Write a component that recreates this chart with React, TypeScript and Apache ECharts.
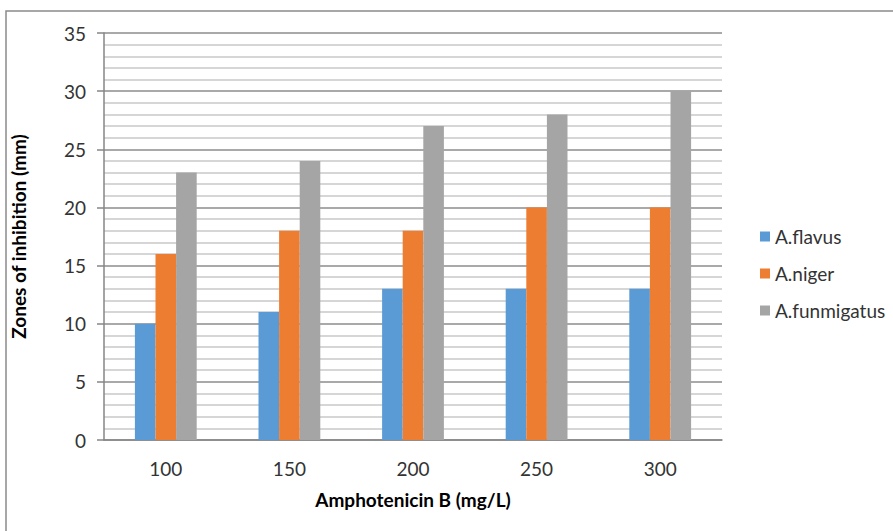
import React, { useEffect, useRef } from "react";
import * as echarts from "echarts";

const categories = ["100", "150", "200", "250", "300"];
const flavus = [10, 11, 13, 13, 13];
const niger = [16, 18, 18, 20, 20];
const funmigatus = [23, 24, 27, 28, 30];
const seriesNames = ["A.flavus", "A.niger", "A.funmigatus"];
const colors = ["#5B9BD5", "#ED7D31", "#A5A5A5"];

const FONT = "Lato, 'Liberation Sans', sans-serif";

export default function App() {
  const ref = useRef<HTMLDivElement>(null);
  useEffect(() => {
    if (!ref.current) return;
    const chart = echarts.init(ref.current, undefined, { renderer: "svg" });
    const data = [flavus, niger, funmigatus];
    chart.setOption({
      animation: false,
      backgroundColor: "#ffffff",
      textStyle: { fontFamily: FONT },
      graphic: [
        {
          type: "rect",
          shape: { x: 6, y: 11, width: 920, height: 560 },
          style: { fill: "none", stroke: "#8a8a8a", lineWidth: 1.5 },
          silent: true,
        },
      ],
      grid: { left: 104, top: 33, right: 171, bottom: 91, containLabel: false },
      legend: {
        orient: "vertical",
        left: 755,
        top: 222,
        itemWidth: 10,
        itemHeight: 10,
        itemGap: 18,
        icon: "rect",
        data: seriesNames,
        textStyle: { fontSize: 19, color: "#333", fontFamily: FONT },
      },
      xAxis: {
        type: "category",
        data: categories,
        axisLine: { show: true, lineStyle: { color: "#868686", width: 1.5 } },
        axisTick: { show: false },
        axisLabel: { fontSize: 19, color: "#333", margin: 19, fontFamily: FONT },
        name: "Amphotenicin B (mg/L)",
        nameLocation: "middle",
        nameGap: 50,
        nameTextStyle: { fontSize: 19, fontWeight: "bold", color: "#000", fontFamily: FONT },
      },
      yAxis: {
        type: "value",
        min: 0,
        max: 35,
        interval: 5,
        axisLine: { show: true, lineStyle: { color: "#868686", width: 1.5 } },
        axisTick: { show: true, length: 7, lineStyle: { color: "#868686", width: 1.5 } },
        axisLabel: { fontSize: 19, color: "#333", margin: 18, fontFamily: FONT },
        splitLine: { show: true, lineStyle: { color: "#8c8c8c", width: 1.5 } },
        minorTick: { show: false, splitNumber: 5 },
        minorSplitLine: { show: true, lineStyle: { color: "#c8c8c8", width: 1.5 } },
        name: "Zones of inhibition (mm)",
        nameLocation: "middle",
        nameGap: 76,
        nameTextStyle: { fontSize: 19, fontWeight: "bold", color: "#000", fontFamily: FONT },
      },
      series: seriesNames.map((name, i) => ({
        name,
        type: "bar",
        data: data[i],
        barGap: "0%",
        barCategoryGap: "50%",
        itemStyle: { color: colors[i] },
      })),
    });
    return () => chart.dispose();
  }, []);
  return (
    <div
      ref={ref}
      style={{ position: "absolute", left: 0, top: 0, width: 893, height: 531 }}
    />
  );
}
